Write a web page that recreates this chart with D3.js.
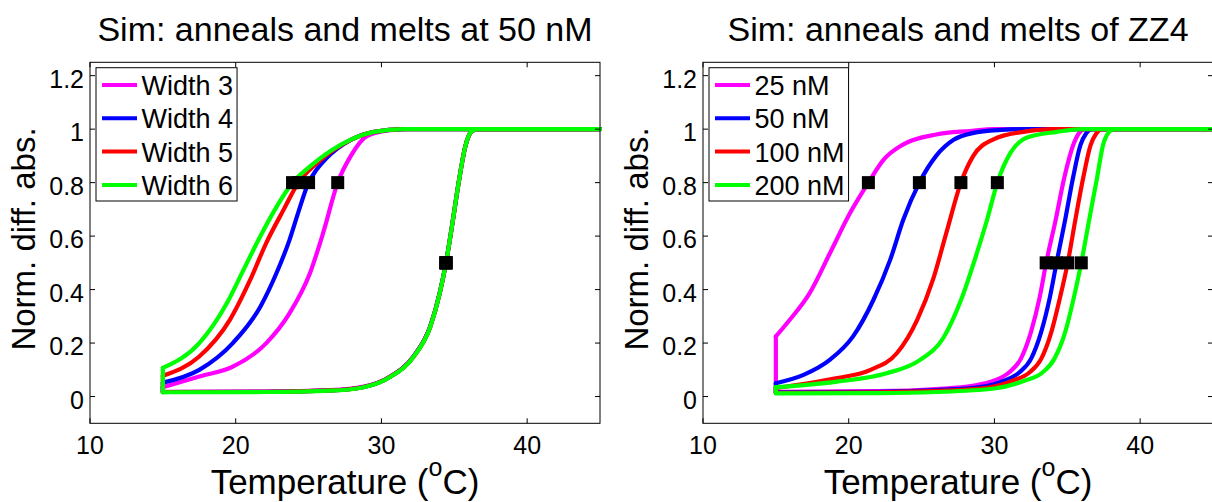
<!DOCTYPE html>
<html>
<head>
<meta charset="utf-8">
<script src="https://cdn.jsdelivr.net/npm/d3@7"></script>
<style>
    body { margin: 0; background: #fff; }
    svg { display: block; font-family: "Liberation Sans", Arial, sans-serif; }
</style>
</head>
<body>
<div id="chart"></div>
<script>
const colors = ['#ff00ff', '#0000ff', '#ff0000', '#00ff00'];
const widthNames = ['Width 3', 'Width 4', 'Width 5', 'Width 6'];
const concNames = ['25 nM', '50 nM', '100 nM', '200 nM'];
const xTickValues = [10, 20, 30, 40];
const xTickLabels = ['10', '20', '30', '40'];
const yTickValues = [0, 0.2, 0.4, 0.6, 0.8, 1, 1.2];
const yTickLabels = ['0', '0.2', '0.4', '0.6', '0.8', '1', '1.2'];

// left panel: [temperature, normalised abs]
const annealW3 = [[15, 0.035], [17.5, 0.075], [19.8, 0.112], [22.1, 0.2], [23.7, 0.312], [25.1, 0.462], [26.0, 0.612], [27.0, 0.8], [27.9, 0.9], [29.0, 0.974], [30.6, 0.996], [32, 1], [45, 1]];
const annealW4 = [[15, 0.052], [17.5, 0.1], [19.8, 0.2], [21.7, 0.337], [22.8, 0.462], [23.7, 0.587], [24.3, 0.69], [25.0, 0.8], [25.5, 0.845], [26.2, 0.89], [27.9, 0.96], [29.5, 0.99], [31.5, 1], [45, 1]];
const annealW5 = [[15, 0.078], [17.5, 0.15], [19.6, 0.287], [21.0, 0.437], [22.1, 0.575], [23.3, 0.7], [24.3, 0.8], [25.6, 0.874], [27.9, 0.96], [29.5, 0.99], [31.5, 1], [45, 1]];
const annealW6 = [[15, 0.107], [17.5, 0.2], [19.4, 0.35], [20.5, 0.47], [21.6, 0.59], [22.7, 0.7], [23.9, 0.8], [25.1, 0.861], [27.9, 0.961], [29.5, 0.99], [31.5, 1], [45, 1]];
const meltW3 = [[15, 0.018], [22, 0.019], [26.5, 0.024], [28.8, 0.037], [30.6, 0.075], [32.2, 0.15], [33.35, 0.262], [34.0, 0.387], [34.43, 0.5], [34.84, 0.637], [35.3, 0.8], [35.76, 0.936], [36.2, 0.992], [36.6, 1], [45, 1]];
const meltW4 = [[15, 0.017], [22, 0.018], [26.5, 0.023], [28.8, 0.036], [30.6, 0.074], [32.2, 0.15], [33.35, 0.262], [34.0, 0.387], [34.43, 0.5], [34.84, 0.637], [35.3, 0.8], [35.76, 0.936], [36.2, 0.992], [36.6, 1], [45, 1]];
const meltW5 = [[15, 0.017], [22, 0.018], [26.5, 0.023], [28.8, 0.036], [30.6, 0.074], [32.2, 0.149], [33.35, 0.261], [34.0, 0.386], [34.43, 0.5], [34.84, 0.637], [35.3, 0.8], [35.76, 0.936], [36.2, 0.992], [36.6, 1], [45, 1]];
const meltW6 = [[15, 0.016], [22, 0.017], [26.5, 0.022], [28.8, 0.035], [30.6, 0.073], [32.2, 0.148], [33.35, 0.26], [34.0, 0.386], [34.43, 0.5], [34.84, 0.637], [35.3, 0.8], [35.76, 0.936], [36.2, 0.992], [36.6, 1], [45, 1]];
const annealMarksW = [27.0, 25.0, 24.3, 23.9];   // T at 0.8
const meltMarksW = [34.43, 34.43, 34.43, 34.43]; // T at 0.5

// right panel
const annealC25 = [[15, 0.225], [16, 0.29], [17.3, 0.385], [18.7, 0.535], [20.1, 0.687], [21.35, 0.8], [22.4, 0.886], [23.75, 0.943], [26, 0.98], [28.3, 0.993], [30, 1], [45, 1]];
const annealC50 = [[15, 0.05], [16.9, 0.081], [18.7, 0.137], [20.3, 0.225], [21.7, 0.362], [22.85, 0.512], [23.75, 0.662], [24.85, 0.8], [26, 0.9], [27.2, 0.96], [28.5, 0.985], [30.5, 0.997], [32, 1], [45, 1]];
const annealC100 = [[15, 0.032], [17, 0.048], [19.2, 0.069], [21.5, 0.1], [23.3, 0.162], [24.7, 0.287], [25.8, 0.44], [26.7, 0.612], [27.7, 0.8], [28.55, 0.9], [29.9, 0.961], [32, 0.99], [34, 1], [45, 1]];
const annealC200 = [[15, 0.035], [19.2, 0.056], [22.6, 0.087], [24.9, 0.137], [26.5, 0.22], [27.7, 0.36], [28.8, 0.537], [29.5, 0.662], [30.2, 0.8], [31.1, 0.911], [32.2, 0.968], [34.3, 0.99], [36, 1], [45, 1]];
const meltC25 = [[15, 0.018], [22, 0.02], [26, 0.028], [28.5, 0.04], [30, 0.06], [31, 0.09], [31.8, 0.14], [32.5, 0.24], [33.1, 0.37], [33.55, 0.5], [34.2, 0.66], [34.8, 0.82], [35.4, 0.94], [35.8, 0.985], [36.2, 1], [45, 1]];
const meltC50 = [[15, 0.016], [22, 0.018], [26, 0.024], [29, 0.035], [30.7, 0.06], [31.7, 0.09], [32.5, 0.14], [33.2, 0.24], [33.8, 0.37], [34.26, 0.5], [34.85, 0.66], [35.4, 0.82], [35.9, 0.94], [36.3, 0.985], [36.7, 1], [45, 1]];
const meltC100 = [[15, 0.014], [22, 0.016], [26, 0.021], [29.5, 0.033], [31.3, 0.06], [32.4, 0.09], [33.2, 0.14], [33.9, 0.24], [34.5, 0.37], [35.03, 0.5], [35.55, 0.66], [36.1, 0.82], [36.6, 0.94], [37.0, 0.985], [37.4, 1], [45, 1]];
const meltC200 = [[15, 0.012], [22, 0.013], [26, 0.017], [30, 0.03], [32.1, 0.06], [33.3, 0.09], [34.1, 0.14], [34.85, 0.24], [35.45, 0.37], [35.96, 0.5], [36.5, 0.66], [37.05, 0.82], [37.45, 0.94], [37.8, 0.985], [38.2, 1], [45, 1]];
const annealMarksC = [21.35, 24.85, 27.7, 30.2];
const meltMarksC = [33.55, 34.26, 35.03, 35.96];

const panels = [
    {
        left: 90, title: 'Sim: anneals and melts at 50 nM', names: widthNames,
        anneals: [annealW3, annealW4, annealW5, annealW6],
        melts: [meltW3, meltW4, meltW5, meltW6],
        annealMarks: annealMarksW, meltMarks: meltMarksW
    },
    {
        left: 703, title: 'Sim: anneals and melts of ZZ4', names: concNames,
        anneals: [annealC25, annealC50, annealC100, annealC200],
        melts: [meltC25, meltC50, meltC100, meltC200],
        annealMarks: annealMarksC, meltMarks: meltMarksC
    }
];

const W = 1212, H = 502;
const plotTop = 62.3, pw = 510, ph = 361;
const tickLen = 5;

const svg = d3.select('#chart').append('svg')
    .attr('width', W)
    .attr('height', H);

const drawPanel = (p) => {
    const x = d3.scaleLinear().domain([10, 45]).range([0, pw]);
    const y = d3.scaleLinear().domain([-0.1, 1.25]).range([ph, 0]);

    const g = svg.append('g').attr('transform', `translate(${p.left}, ${plotTop})`);

    const line = d3.line()
        .x(d => x(d[0]))
        .y(d => y(d[1]))
        .curve(d3.curveMonotoneX);

    // curves: anneal, vertical drop at 15 C, melt
    p.anneals.forEach((a, i) => {
        const m = p.melts[i];
        const s = g.append('g')
            .attr('fill', 'none')
            .attr('stroke', colors[i])
            .attr('stroke-width', 4.2)
            .attr('stroke-linejoin', 'round')
            .attr('stroke-linecap', 'round');
        s.append('path').attr('d', line(a));
        s.append('line')
            .attr('x1', x(a[0][0])).attr('y1', y(a[0][1]))
            .attr('x2', x(m[0][0])).attr('y2', y(m[0][1]));
        s.append('path').attr('d', line(m));
    });

    // markers
    const marks = p.annealMarks.map(t => [t, 0.8]).concat(p.meltMarks.map(t => [t, 0.5]));
    g.selectAll('rect.mark')
        .data(marks)
        .enter().append('rect')
        .attr('class', 'mark')
        .attr('x', d => x(d[0]) - 6.5)
        .attr('y', d => y(d[1]) - 6.5)
        .attr('width', 13)
        .attr('height', 13)
        .attr('fill', '#000');

    // box + inward ticks
    g.append('rect')
        .attr('width', pw).attr('height', ph)
        .attr('fill', 'none').attr('stroke', '#000').attr('stroke-width', 1);

    xTickValues.forEach((t, i) => {
        g.append('line').attr('x1', x(t)).attr('x2', x(t)).attr('y1', ph).attr('y2', ph - tickLen).attr('stroke', '#000');
        g.append('line').attr('x1', x(t)).attr('x2', x(t)).attr('y1', 0).attr('y2', tickLen).attr('stroke', '#000');
        g.append('text')
            .attr('x', x(t)).attr('y', 454 - plotTop)
            .attr('text-anchor', 'middle')
            .attr('font-size', '25px')
            .text(xTickLabels[i]);
    });
    yTickValues.forEach((t, i) => {
        g.append('line').attr('x1', 0).attr('x2', tickLen).attr('y1', y(t)).attr('y2', y(t)).attr('stroke', '#000');
        g.append('line').attr('x1', pw).attr('x2', pw - tickLen).attr('y1', y(t)).attr('y2', y(t)).attr('stroke', '#000');
        g.append('text')
            .attr('x', -6).attr('y', y(t) + 12)
            .attr('text-anchor', 'end')
            .attr('font-size', '25px')
            .text(yTickLabels[i]);
    });

    // title and axis labels
    g.append('text')
        .attr('x', pw / 2).attr('y', 41 - plotTop)
        .attr('text-anchor', 'middle')
        .attr('font-size', '34px')
        .text(p.title);

    g.append('text')
        .attr('transform', `translate(-55, ${239 - plotTop}) rotate(-90)`)
        .attr('text-anchor', 'middle')
        .attr('font-size', '33px')
        .text('Norm. diff. abs.');

    const xl = g.append('text')
        .attr('x', pw / 2).attr('y', 494 - plotTop)
        .attr('text-anchor', 'middle')
        .attr('font-size', '35px');
    xl.append('tspan').text('Temperature (');
    xl.append('tspan').attr('dy', -18).attr('font-size', '25px').text('o');
    xl.append('tspan').attr('dy', 18).text('C)');

    // legend
    const lg = g.append('g').attr('transform', 'translate(6, 5.4)');
    const box = lg.append('rect')
        .attr('fill', '#fff').attr('stroke', '#000').attr('stroke-width', 1)
        .attr('height', 133.3);
    let maxW = 0;
    p.names.forEach((n, i) => {
        const ly = 17.3 + i * 33.3;
        lg.append('line')
            .attr('x1', 6).attr('x2', 41).attr('y1', ly).attr('y2', ly)
            .attr('stroke', colors[i]).attr('stroke-width', 4);
        const t = lg.append('text')
            .attr('x', 45.5).attr('y', ly + 10)
            .attr('font-size', '27px')
            .text(n);
        maxW = Math.max(maxW, t.node().getComputedTextLength());
    });
    box.attr('width', 45.5 + maxW + 4);
};

panels.forEach(drawPanel);
</script>
</body>
</html>
